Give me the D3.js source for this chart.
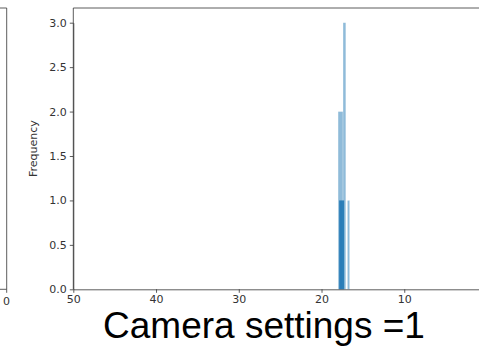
<!DOCTYPE html>
<html>
<head>
<meta charset="utf-8">
<script src="https://cdn.jsdelivr.net/npm/d3@7"></script>
<style>
  html, body { margin: 0; padding: 0; background: #fff; }
  svg { display: block; }
  .tick text { font-family: "DejaVu Sans", sans-serif; font-size: 11px; fill: #333; }
</style>
</head>
<body>
<svg id="chart" width="479" height="346"></svg>
<script>
// Histogram bins for the light (semi-transparent) series: [left edge, right edge, count]
const lightBinStart = [18.0, 17.4, 16.87];
const lightBinEnd   = [17.4, 17.06, 16.6];
const lightCounts   = [2, 3, 1];

// Histogram bins for the solid series
const darkBinStart = [17.87];
const darkBinEnd   = [17.27];
const darkCounts   = [1];

const xTicks = [50, 40, 30, 20, 10];
const yTicks = [0, 0.5, 1.0, 1.5, 2.0, 2.5, 3.0];
const yLabel = "Frequency";
const caption = "Camera settings =1";

const svg = d3.select("#chart");

const plotLeft = 73.3, plotTop = 8, plotBottom = 289.3;
// The x axis runs from high to low values
const x = d3.scaleLinear().domain([50, 0]).range([plotLeft, 487]);
const y = d3.scaleLinear().domain([0, 3.0]).range([plotBottom, 22.7]);

const light = lightCounts.map((c, i) => ({ a: lightBinStart[i], b: lightBinEnd[i], c }));
const dark = darkCounts.map((c, i) => ({ a: darkBinStart[i], b: darkBinEnd[i], c }));

svg.append("g").selectAll("rect").data(light).join("rect")
  .attr("x", d => x(d.a))
  .attr("width", d => x(d.b) - x(d.a))
  .attr("y", d => y(d.c))
  .attr("height", d => y(0) - y(d.c))
  .attr("fill", "#1f77b4").attr("fill-opacity", 0.5)
  .attr("stroke", "#fff").attr("stroke-width", 0.4).attr("stroke-opacity", 0.6);

svg.append("g").selectAll("rect").data(dark).join("rect")
  .attr("x", d => x(d.a))
  .attr("width", d => x(d.b) - x(d.a))
  .attr("y", d => y(d.c))
  .attr("height", d => y(0) - y(d.c))
  .attr("fill", "#1f77b4").attr("fill-opacity", 0.9);

// Axes
const xAxis = d3.axisBottom(x).tickValues(xTicks).tickFormat(d3.format("d")).tickSize(3.5).tickSizeOuter(0);
const gx = svg.append("g").attr("transform", `translate(0,${plotBottom})`).call(xAxis);
gx.selectAll("text").attr("y", 5.5).attr("dy", "0.75em");

const yAxis = d3.axisLeft(y).tickValues(yTicks).tickFormat(d3.format(".1f")).tickSize(3.5).tickSizeOuter(0);
const gy = svg.append("g").attr("transform", `translate(${plotLeft},0)`).call(yAxis);
gy.selectAll("text").attr("x", -6.5);

svg.selectAll(".domain").attr("stroke", "#333").attr("stroke-width", 0.8);
svg.selectAll(".tick line").attr("stroke", "#333").attr("stroke-width", 0.8);

// Spines
svg.append("line").attr("x1", plotLeft).attr("x2", plotLeft).attr("y1", plotTop).attr("y2", plotBottom)
  .attr("stroke", "#333").attr("stroke-width", 0.8);
svg.append("line").attr("x1", plotLeft).attr("x2", 479).attr("y1", plotTop).attr("y2", plotTop)
  .attr("stroke", "#333").attr("stroke-width", 0.8);

// Y axis title
svg.append("text")
  .attr("transform", `translate(37,${(plotTop + plotBottom) / 2}) rotate(-90)`)
  .attr("text-anchor", "middle")
  .attr("font-family", "DejaVu Sans, sans-serif").attr("font-size", 11).attr("fill", "#333")
  .text(yLabel);

// Edge of the neighbouring panel on the left
const edge = svg.append("g").attr("stroke", "#333").attr("stroke-width", 0.8);
edge.append("line").attr("x1", 6.7).attr("x2", 6.7).attr("y1", plotTop).attr("y2", plotBottom);
edge.append("line").attr("x1", 0).attr("x2", 6.7).attr("y1", plotTop).attr("y2", plotTop);
edge.append("line").attr("x1", 0).attr("x2", 6.7).attr("y1", plotBottom).attr("y2", plotBottom);
edge.append("line").attr("x1", 6.7).attr("x2", 6.7).attr("y1", plotBottom).attr("y2", plotBottom + 3.5);
svg.append("text").attr("x", 6.5).attr("y", plotBottom + 16)
  .attr("text-anchor", "middle")
  .attr("font-family", "DejaVu Sans, sans-serif").attr("font-size", 11).attr("fill", "#333")
  .text("0");

// Caption
svg.append("text")
  .attr("x", 264).attr("y", 338)
  .attr("text-anchor", "middle")
  .attr("font-family", "Liberation Sans, Arial, sans-serif").attr("font-size", 37).attr("fill", "#000")
  .text(caption);
</script>
</body>
</html>
